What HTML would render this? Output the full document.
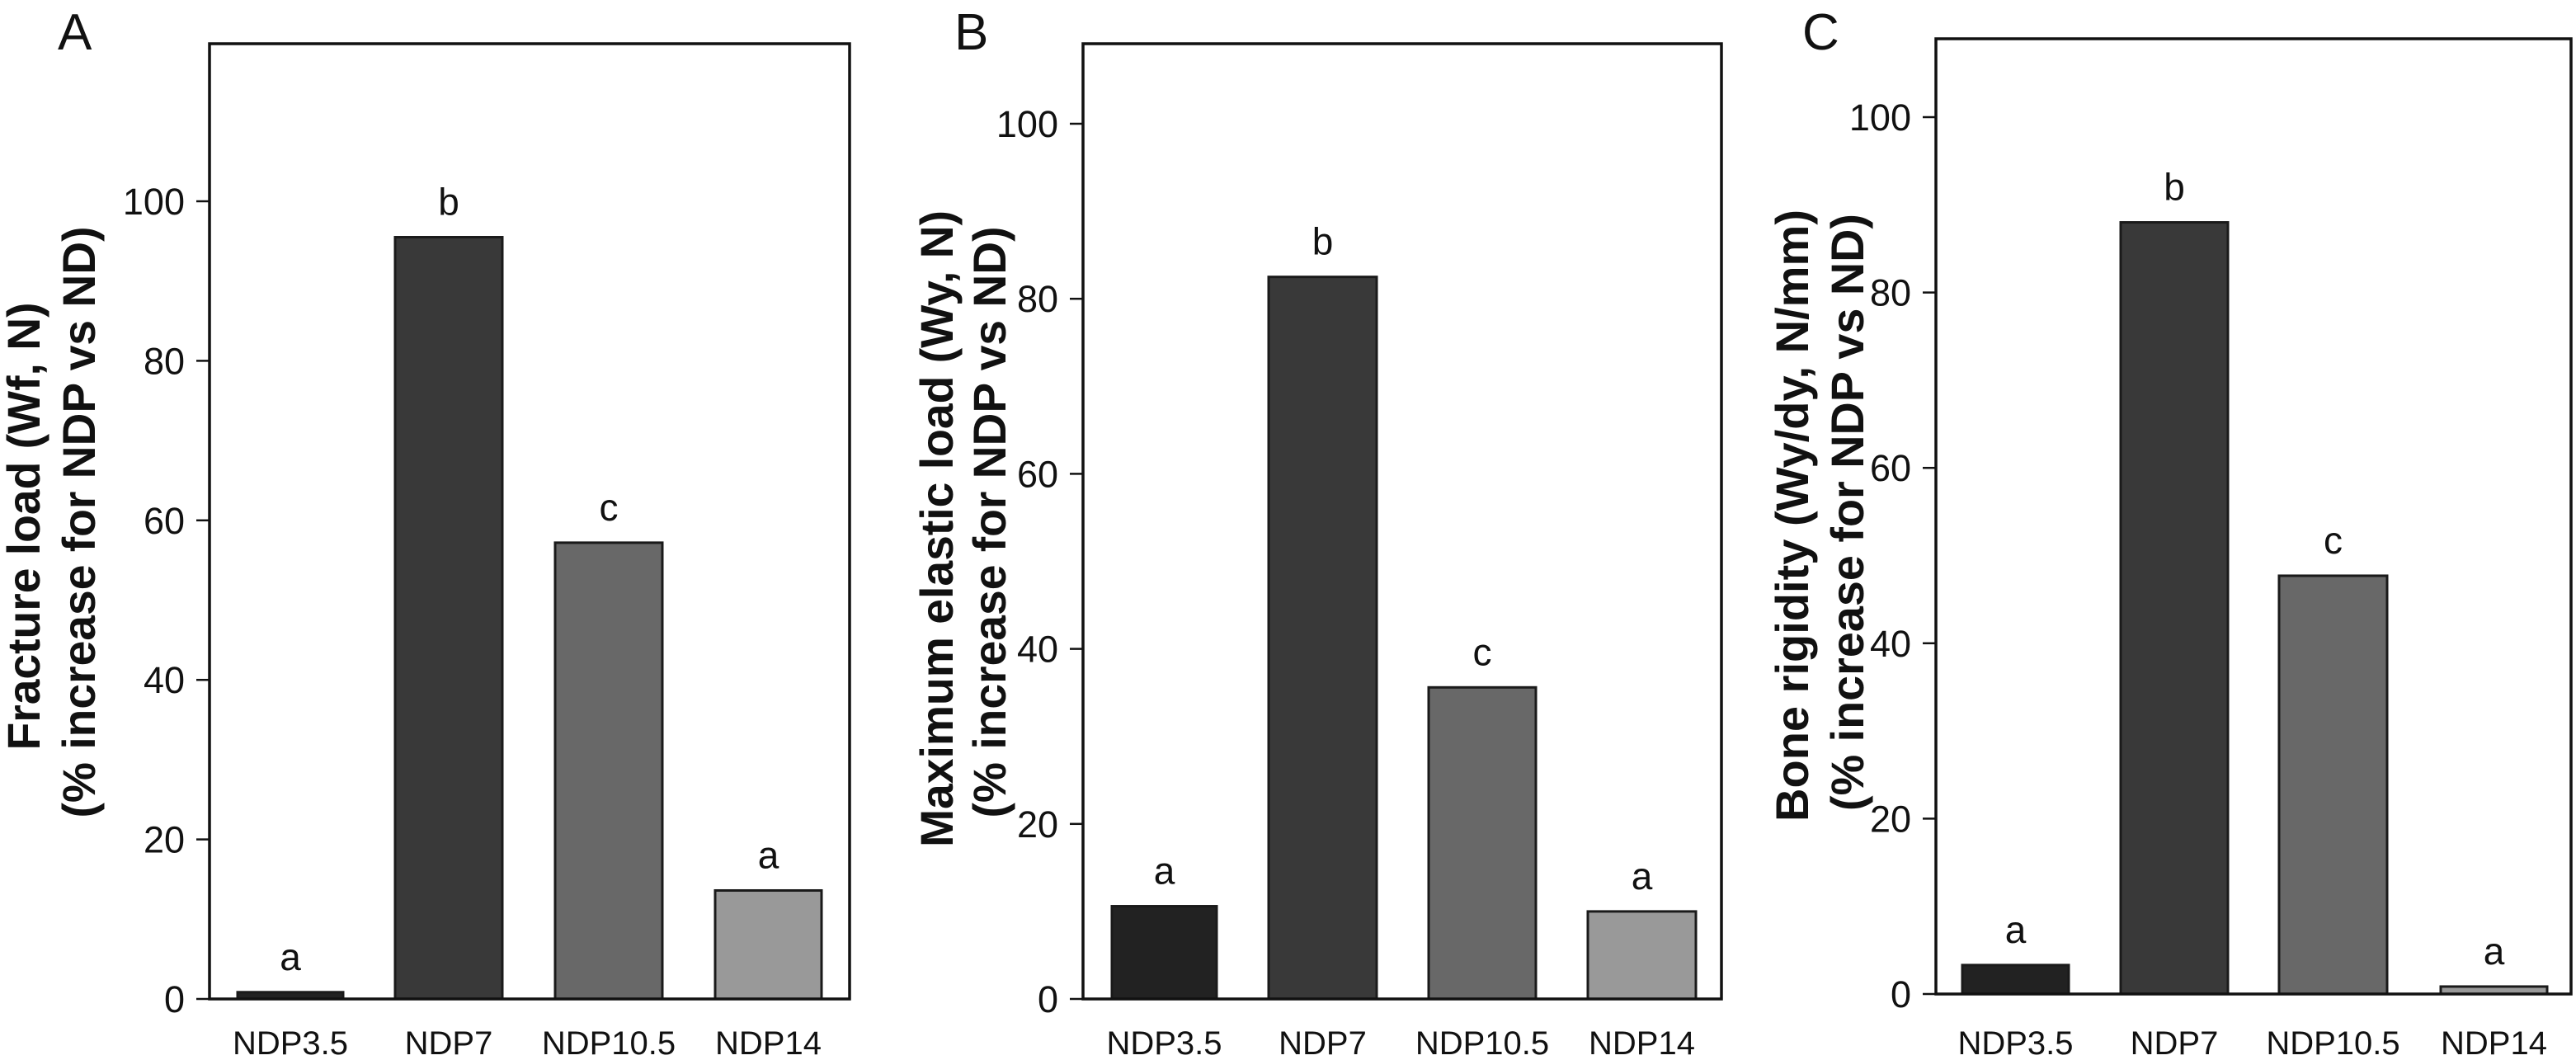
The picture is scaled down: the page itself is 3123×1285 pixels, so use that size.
<!DOCTYPE html>
<html><head><meta charset="utf-8">
<style>
html,body{margin:0;padding:0;background:#fff;}
svg{display:block;font-family:"Liberation Sans",Arial,sans-serif;}
</style></head>
<body>
<svg id="chart" width="3123" height="1285" viewBox="0 0 3123 1285" xmlns="http://www.w3.org/2000/svg"></svg>
<script>
const categories = ["NDP3.5","NDP7","NDP10.5","NDP14"];
const valuesA = [0.85, 95.5, 57.2, 13.6];
const valuesB = [10.6, 82.5, 35.6, 10.0];
const valuesC = [3.3, 88.0, 47.7, 0.85];
const lettersA = ["a","b","c","a"];
const lettersB = ["a","b","c","a"];
const lettersC = ["a","b","c","a"];
const tickValues = [0,20,40,60,80,100];
const barColors = ["#222222","#393939","#686868","#999999"];

const panels = [
  {id:"a", tag:"A", values:valuesA, letters:lettersA, left:254, right:1030, top:53, bottom:1211, y100:244,
   barX:[[288,416],[479,609],[673,803],[867,996]], tagX:70,
   lab1:{text:"Fracture load (Wf, N)", x:48, y:638, len:543},
   lab2:{text:"(% increase for NDP vs ND)", x:115, y:633, len:717}},
  {id:"b", tag:"B", values:valuesB, letters:lettersB, left:1313, right:2087, top:53, bottom:1211, y100:150,
   barX:[[1348,1475],[1538,1669],[1732,1862],[1925,2056]], tagX:1157,
   lab1:{text:"Maximum elastic load (Wy, N)", x:1155, y:641, len:772},
   lab2:{text:"(% increase for NDP vs ND)", x:1219, y:633, len:717}},
  {id:"c", tag:"C", values:valuesC, letters:lettersC, left:2347, right:3117, top:47, bottom:1205, y100:142,
   barX:[[2379,2508],[2571,2701],[2763,2894],[2959,3088]], tagX:2185,
   lab1:{text:"Bone rigidity (Wy/dy, N/mm)", x:2192, y:625, len:742},
   lab2:{text:"(% increase for NDP vs ND)", x:2259, y:621, len:724}}
];
const NS="http://www.w3.org/2000/svg";
const svg=document.getElementById("chart");
function mk(tag,attrs,parent){const e=document.createElementNS(NS,tag);for(const k in attrs)e.setAttribute(k,attrs[k]);(parent||svg).appendChild(e);return e;}

panels.forEach(p=>{
  const g=mk("g",{});
  
  
  const yScale=v=>p.bottom-(v/100)*(p.bottom-p.y100);
  p.values.forEach((v,i)=>{
    const [x0,x1]=p.barX[i];
    const yt=yScale(v);
    const r=mk("rect",{x:x0,y:yt,width:x1-x0,height:p.bottom-yt,fill:barColors[i],stroke:"#1a1a1a","stroke-width":3},g);
    
    
    const t=mk("text",{x:(x0+x1)/2,y:yt-27,"font-size":46,"text-anchor":"middle",fill:"#111"},g);
    t.textContent=p.letters[i];
    
    
    const c=mk("text",{x:(x0+x1)/2,y:1278,"font-size":40,"text-anchor":"middle",fill:"#111"},g);
    c.textContent=categories[i];
    
    
  });
  const f=mk("rect",{x:p.left,y:p.top,width:p.right-p.left,height:p.bottom-p.top,fill:"none",stroke:"#111","stroke-width":3.5},g);
  
  
  tickValues.forEach(v=>{
    const y=yScale(v);
    const l=mk("line",{x1:p.left-16,x2:p.left,y1:y,y2:y,stroke:"#111","stroke-width":2.5},g);
    
    
    const t=mk("text",{x:p.left-30,y:y+16,"font-size":45,"text-anchor":"end",fill:"#111"},g);
    t.textContent=v;
    
    
  });
  [p.lab1,p.lab2].forEach((lb,k)=>{
    const t=mk("text",{x:0,y:0,"font-size":56,"font-weight":"bold","text-anchor":"middle",fill:"#111",
      textLength:lb.len,lengthAdjust:"spacingAndGlyphs",
      transform:`translate(${lb.x},${lb.y}) rotate(-90)`},g);
    t.textContent=lb.text;
    
    
  });
  const tg=mk("text",{x:p.tagX,y:60,"font-size":62,fill:"#111"},g);
  tg.textContent=p.tag;
  
  
});
</script>
</body></html>
